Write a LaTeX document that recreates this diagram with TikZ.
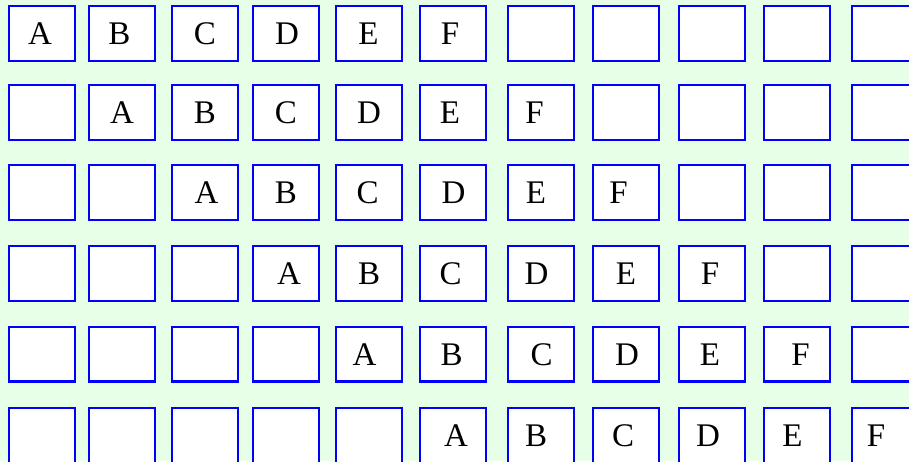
\documentclass[tikz,border=0pt]{standalone}
\usepackage{fontspec}
\usepackage{xcolor}
\newfontfamily\cellfont{Liberation Serif}
\definecolor{paleground}{RGB}{230,255,230}
\tikzset{
  cell/.style={draw=blue, fill=white, line width=2.4pt, inner sep=0pt,
    minimum width=65.6pt, minimum height=54.6pt},
  letter/.style={inner sep=0pt, text height=22pt, text depth=0pt,
    font=\cellfont\fontsize{33}{33}\selectfont},
}
\begin{document}
\begin{tikzpicture}[x=1pt, y=-1pt]
  \fill[paleground] (0,0) rectangle (909,461);
  \useasboundingbox (0,0) rectangle (909,461);

  % six rows, each shifted one cell to the right
  \foreach \rowy/\shifts [count=\r from 0] in {
      5/{-2,-2.5,0,1,-0.5,-3},
      84/{0,0,0,0,-3,-6.5},
      164/{1.5,0,-1.5,0.5,-5,-7.5},
      245/{3,0,-2.5,-4.5,0,-2},
      325.5/{-4.5,-1.5,0.5,1,-2,3.5},
      407/{3,-5,-3,-4,-4.5,-9}}{
    \foreach \colx [count=\c from 0] in {8,88,171,252,335,419,507,592,678,763,851}{
      \node[cell] (cell-\r-\c) at ({\colx+34},{\rowy+28.5}) {};
      \pgfmathtruncatemacro{\k}{\c-\r}
      \ifnum\k>-1 \ifnum\k<6
        \pgfmathsetmacro{\dx}{{\shifts}[\k]}
        \node[letter] (txt-\r-\c) at ([xshift=\dx pt]cell-\r-\c.center)
          {\ifcase\k A\or B\or C\or D\or E\or F\fi};
      \fi\fi
    }
  }
\end{tikzpicture}
\end{document}
